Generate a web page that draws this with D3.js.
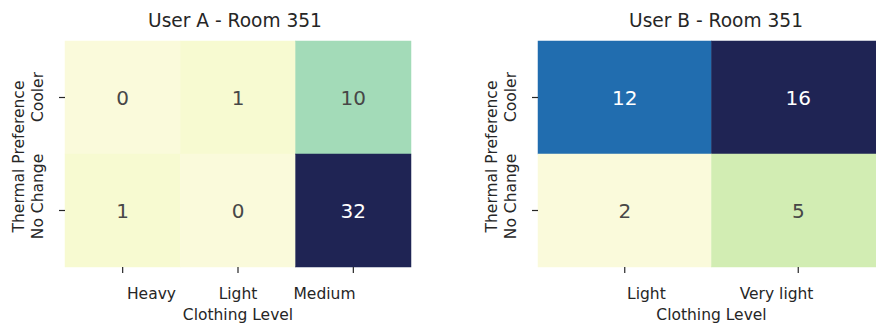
<!DOCTYPE html>
<html><head><meta charset="utf-8">
<script src="https://cdn.jsdelivr.net/npm/d3@7"></script>
<style>body{margin:0;background:#fff}svg{display:block;font-family:"DejaVu Sans",sans-serif}</style>
</head><body>
<svg id="c" width="876" height="323"></svg>
<script>
const rowsCat = ["Cooler", "No Change"];
const colsA = ["Heavy", "Light", "Medium"];
const valuesA = [[0, 1, 10], [1, 0, 32]];
const colsB = ["Light", "Very light"];
const valuesB = [[12, 16], [2, 5]];
const titles = ["User A - Room 351", "User B - Room 351"];
const xLabel = "Clothing Level";
const yLabel = "Thermal Preference";
// YlGnBu colour stops (as they appear in the picture)
const paletteStops = ["#fafadb", "#edf8b1", "#c7e9b4", "#7fcdbb", "#41b6c4", "#1d91c0", "#225ea8", "#253494", "#1f2454"];

const svg = d3.select("#c");
const textColor = "#262626";

function heat(cfg) {
  const {cols, values, title, x0, x1, y0, y1, titleX} = cfg;
  const g = svg.append("g");
  const x = d3.scaleBand().domain(cols).range([x0, x1]);
  const y = d3.scaleBand().domain(rowsCat).range([y0, y1]);
  const flat = values.flat();
  const interp = d3.piecewise(d3.interpolateRgb, paletteStops);
  const color = d3.scaleSequential(interp).domain([d3.min(flat), d3.max(flat)]);
  const cells = [];
  values.forEach((row, i) => row.forEach((v, j) => cells.push({r: rowsCat[i], c: cols[j], v})));
  g.selectAll("rect").data(cells).join("rect")
    .attr("x", d => x(d.c)).attr("y", d => y(d.r))
    .attr("width", x.bandwidth()).attr("height", y.bandwidth())
    .attr("fill", d => color(d.v)).attr("stroke", d => color(d.v)).attr("stroke-width", 0.5);
  g.selectAll("text.ann").data(cells).join("text").attr("class", "ann")
    .attr("x", d => x(d.c) + x.bandwidth() / 2).attr("y", d => y(d.r) + y.bandwidth() / 2)
    .attr("text-anchor", "middle").attr("dominant-baseline", "central")
    .attr("font-size", 20)
    .attr("fill", d => {
      const c = d3.rgb(color(d.v));
      const lum = 0.2126 * c.r / 255 + 0.7152 * c.g / 255 + 0.0722 * c.b / 255;
      return lum < 0.408 ? "#ffffff" : "#474747";
    })
    .text(d => d.v);
  // x axis ticks
  const xa = g.append("g").attr("transform", `translate(0,${y1})`)
    .call(d3.axisBottom(x).tickSize(6).tickFormat(""));
  xa.select(".domain").remove();
  xa.selectAll("line").attr("stroke", textColor).attr("stroke-width", 1.2);
  const mid = (x0 + x1) / 2;
  g.selectAll("text.xl").data(cols).join("text").attr("class", "xl")
    .attr("x", d => mid + (x(d) + x.bandwidth() / 2 - mid) * 0.75)
    .attr("y", y1 + 32).attr("text-anchor", "middle").attr("font-size", 15.5)
    .attr("fill", textColor).text(d => d);
  g.append("text").attr("x", mid).attr("y", y1 + 53).attr("text-anchor", "middle")
    .attr("font-size", 15.5).attr("fill", textColor).text(xLabel);
  // y axis ticks
  const ya = g.append("g").attr("transform", `translate(${x0},0)`)
    .call(d3.axisLeft(y).tickSize(6).tickFormat(""));
  ya.select(".domain").remove();
  ya.selectAll("line").attr("stroke", textColor).attr("stroke-width", 1.2);
  // y label: two lines
  const ymid = (y0 + y1) / 2;
  g.append("text").attr("transform", `translate(${x0 - 41},${ymid + 2.5}) rotate(-90)`)
    .attr("text-anchor", "middle").attr("font-size", 15.5).attr("fill", textColor).text(yLabel);
  g.append("text").attr("transform", `translate(${x0 - 22},${y(rowsCat[0]) + 56}) rotate(-90)`)
    .attr("text-anchor", "middle").attr("font-size", 15.5).attr("fill", textColor).text(rowsCat[0]);
  g.append("text").attr("transform", `translate(${x0 - 22},${y(rowsCat[1]) + 42.5}) rotate(-90)`)
    .attr("text-anchor", "middle").attr("font-size", 15.5).attr("fill", textColor).text(rowsCat[1]);
  // title
  g.append("text").attr("x", titleX).attr("y", 27).attr("text-anchor", "middle")
    .attr("font-size", 18.6).attr("fill", textColor).text(title);
}

heat({cols: colsA, values: valuesA, title: titles[0], x0: 65, x1: 411, y0: 41, y1: 267, titleX: 235});
heat({cols: colsB, values: valuesB, title: titles[1], x0: 538, x1: 885, y0: 41, y1: 267, titleX: 716});
</script>
</body></html>
